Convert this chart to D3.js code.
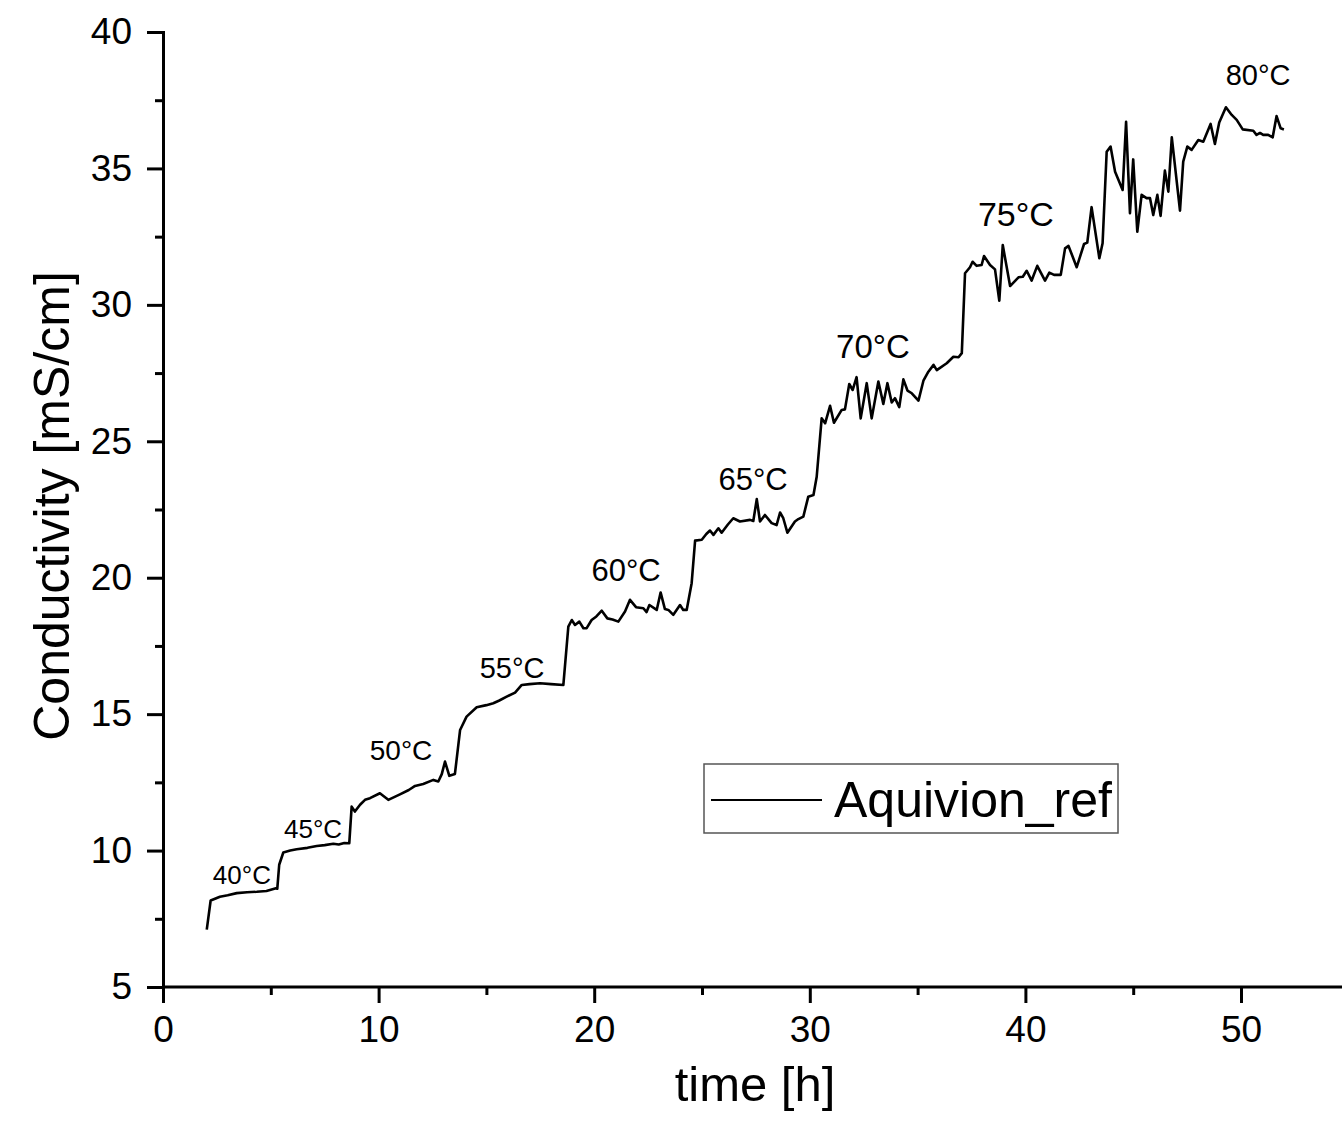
<!DOCTYPE html>
<html>
<head>
<meta charset="utf-8">
<script src="https://cdn.jsdelivr.net/npm/d3@7"></script>
<style>
  html, body { margin: 0; padding: 0; background: #fff; }
  svg { display: block; font-family: "Liberation Sans", Arial, sans-serif; }
</style>
</head>
<body>
<svg id="chart" width="1342" height="1137"></svg>
<script>
// time [h]
const time = [
  2.03, 2.21, 2.64, 3.00, 3.42, 3.90, 4.35, 4.80, 5.24, 5.30, 5.39, 5.58, 5.90, 6.20, 6.70, 7.13, 7.50, 7.90, 8.15, 8.41,
  8.64, 8.75, 8.90, 9.14, 9.37, 9.60, 10.06, 10.45, 10.99, 11.40, 11.69, 12.07, 12.54, 12.77, 12.93, 13.08, 13.28, 13.54, 13.78, 14.08,
  14.55, 15.00, 15.32, 15.60, 15.94, 16.33, 16.64, 17.00, 17.49, 18.00, 18.57, 18.80, 18.96, 19.11, 19.31, 19.50, 19.65, 19.88, 20.10, 20.35,
  20.61, 20.85, 21.12, 21.43, 21.66, 21.94, 22.28, 22.43, 22.56, 22.90, 23.08, 23.28, 23.44, 23.67, 23.98, 24.13, 24.29, 24.52, 24.68, 24.99,
  25.20, 25.37, 25.53, 25.76, 25.91, 26.20, 26.45, 26.76, 27.23, 27.38, 27.54, 27.69, 27.92, 28.23, 28.46, 28.62, 28.77, 28.96, 29.31, 29.47,
  29.70, 29.93, 30.17, 30.32, 30.55, 30.71, 30.94, 31.12, 31.48, 31.63, 31.83, 31.99, 32.17, 32.36, 32.64, 32.87, 33.18, 33.41, 33.60, 33.80,
  33.95, 34.15, 34.34, 34.53, 34.73, 35.04, 35.27, 35.50, 35.74, 35.89, 36.35, 36.66, 36.90, 37.05, 37.20, 37.43, 37.55, 37.74, 37.97, 38.08,
  38.36, 38.59, 38.79, 38.95, 39.29, 39.68, 39.88, 40.06, 40.29, 40.55, 40.91, 41.11, 41.33, 41.64, 41.84, 42.00, 42.38, 42.72, 42.87, 43.07,
  43.43, 43.58, 43.77, 43.95, 44.16, 44.51, 44.67, 44.85, 45.00, 45.19, 45.39, 45.62, 45.78, 45.93, 46.12, 46.27, 46.47, 46.63, 46.79, 47.17,
  47.32, 47.51, 47.71, 48.02, 48.25, 48.59, 48.79, 48.99, 49.30, 49.57, 49.80, 50.08, 50.57, 50.72, 50.88, 51.03, 51.26, 51.47, 51.65, 51.84,
  51.99
];

// Conductivity [mS/cm]
const conductivity = [
  7.10, 8.17, 8.31, 8.36, 8.44, 8.47, 8.49, 8.52, 8.62, 8.60, 9.48, 9.93, 10.00, 10.05, 10.10, 10.17, 10.20, 10.25, 10.22, 10.28,
  10.27, 11.61, 11.43, 11.68, 11.86, 11.92, 12.10, 11.86, 12.06, 12.22, 12.37, 12.44, 12.59, 12.53, 12.80, 13.26, 12.74, 12.81, 14.42, 14.91,
  15.25, 15.33, 15.40, 15.50, 15.64, 15.79, 16.07, 16.10, 16.13, 16.10, 16.07, 18.21, 18.45, 18.27, 18.39, 18.15, 18.15, 18.45, 18.58, 18.79,
  18.51, 18.47, 18.39, 18.76, 19.19, 18.92, 18.88, 18.74, 19.00, 18.82, 19.46, 18.85, 18.82, 18.64, 19.00, 18.82, 18.82, 19.80, 21.36, 21.39,
  21.60, 21.73, 21.57, 21.81, 21.65, 21.95, 22.18, 22.06, 22.12, 22.08, 22.88, 22.06, 22.30, 22.00, 21.93, 22.39, 22.18, 21.65, 22.06, 22.15,
  22.24, 22.97, 23.03, 23.70, 25.84, 25.66, 26.30, 25.68, 26.15, 26.17, 27.10, 26.88, 27.35, 25.84, 27.13, 25.84, 27.19, 26.37, 27.13, 26.42,
  26.58, 26.25, 27.27, 26.86, 26.76, 26.49, 27.22, 27.55, 27.80, 27.61, 27.86, 28.10, 28.08, 28.23, 31.16, 31.38, 31.58, 31.43, 31.46, 31.79,
  31.46, 31.30, 30.15, 32.19, 30.69, 31.01, 31.03, 31.25, 30.89, 31.43, 30.89, 31.18, 31.10, 31.10, 32.07, 32.16, 31.38, 32.23, 32.28, 33.58,
  31.71, 32.26, 35.61, 35.80, 34.88, 34.21, 36.71, 33.36, 35.33, 32.68, 34.03, 33.91, 33.91, 33.29, 34.03, 33.26, 34.92, 34.15, 36.14, 33.45,
  35.25, 35.80, 35.68, 36.04, 35.98, 36.63, 35.90, 36.68, 37.24, 36.96, 36.78, 36.43, 36.38, 36.23, 36.30, 36.23, 36.23, 36.14, 36.92, 36.47,
  36.43
];

// temperature step annotations, anchored in data units (time, conductivity)
const tempLabels = ["40°C", "45°C", "50°C", "55°C", "60°C", "65°C", "70°C", "75°C", "80°C"];
const tempTime   = [3.66, 6.96, 11.04, 16.19, 21.48, 27.37, 32.93, 39.56, 50.79];
const tempCond   = [8.78, 10.47, 13.32, 16.33, 19.88, 23.22, 28.05, 32.89, 38.06];

const xTicks = [0, 10, 20, 30, 40, 50];
const yTicks = [5, 10, 15, 20, 25, 30, 35, 40];
const seriesName = "Aquivion_ref";

const svg = d3.select("#chart");

const x = d3.scaleLinear().domain([0, 55]).range([163, 163 + 55 * 21.56]);
const y = d3.scaleLinear().domain([5, 40]).range([987, 32]);

const data = time.map((t, i) => ({ t: t, v: conductivity[i] }));

// axes
const xAxis = svg.append("g").attr("transform", "translate(0,987)")
  .call(d3.axisBottom(x).tickValues(xTicks).tickSize(16).tickPadding(13).tickFormat(d3.format("d")));
svg.append("g").attr("transform", "translate(0,987)")
  .call(d3.axisBottom(x).tickValues(d3.range(5, 56, 10)).tickSize(8).tickFormat(""))
  .select(".domain").remove();

const yAxis = svg.append("g").attr("transform", "translate(163,0)")
  .call(d3.axisLeft(y).tickValues(yTicks).tickSize(16).tickPadding(15).tickFormat(d3.format("d")));
svg.append("g").attr("transform", "translate(163,0)")
  .call(d3.axisLeft(y).tickValues(d3.range(7.5, 40, 5)).tickSize(8).tickFormat(""))
  .select(".domain").remove();

svg.selectAll(".domain").attr("stroke", "#000").attr("stroke-width", 3);
svg.selectAll(".tick line").attr("stroke", "#000").attr("stroke-width", 3);
svg.selectAll(".tick text")
  .attr("fill", "#000")
  .style("font-family", "Liberation Sans, Arial, sans-serif")
  .style("font-size", "37px");
xAxis.selectAll(".domain").attr("d", "M163,0H1342");

// the curve
svg.append("path")
  .datum(data)
  .attr("fill", "none")
  .attr("stroke", "#000")
  .attr("stroke-width", 2.6)
  .attr("stroke-linejoin", "round")
  .attr("d", d3.line().x(d => x(d.t)).y(d => y(d.v)));

// temperature labels
const labelSize = [26, 26, 28, 29, 31, 31, 33, 34, 29];
svg.append("g").selectAll("text").data(tempLabels)
  .enter().append("text")
    .text(d => d)
    .attr("x", (d, i) => x(tempTime[i]))
    .attr("y", (d, i) => y(tempCond[i]))
    .attr("text-anchor", "middle")
    .attr("fill", "#000")
    .style("font-size", (d, i) => labelSize[i] + "px");

// axis titles
svg.append("text")
  .text("time [h]")
  .attr("x", 755).attr("y", 1101)
  .attr("text-anchor", "middle")
  .style("font-size", "49px");

svg.append("text")
  .text("Conductivity [mS/cm]")
  .attr("transform", "translate(69,506) rotate(-90)")
  .attr("text-anchor", "middle")
  .style("font-size", "50px");

// legend
const legend = svg.append("g");
legend.append("rect")
  .attr("x", 704).attr("y", 764).attr("width", 414).attr("height", 69)
  .attr("fill", "#fff").attr("stroke", "#555").attr("stroke-width", 1.5);
legend.append("line")
  .attr("x1", 711).attr("x2", 822).attr("y1", 800).attr("y2", 800)
  .attr("stroke", "#000").attr("stroke-width", 2);
legend.append("text")
  .text(seriesName)
  .attr("x", 834).attr("y", 817)
  .style("font-size", "50px");
</script>
</body>
</html>
